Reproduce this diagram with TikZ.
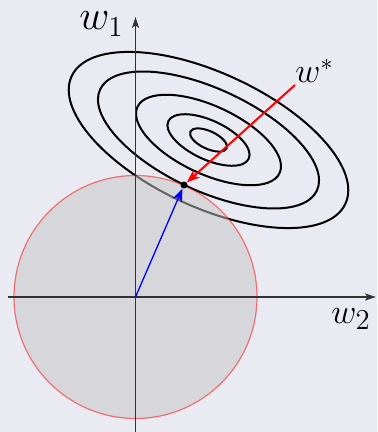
\documentclass[tikz,border=0pt]{standalone}
\usetikzlibrary{arrows.meta}
\definecolor{bgc}{HTML}{EAEAF2}
\definecolor{axc}{HTML}{333333}
\begin{document}
\begin{tikzpicture}[x=0.5pt,y=-0.5pt,
  contour/.style={black,line width=1pt},
  axisline/.style={axc,line width=0.85pt,-{Stealth[length=5.5pt,width=3.6pt,inset=1.3pt]}},
  vec/.style={-{Stealth[length=6.5pt,width=5pt,inset=1.8pt]}},
  lbl/.style={inner sep=0pt,anchor=base west}]
\fill[bgc] (0,0) rectangle (377,432);
\useasboundingbox (0,0) rectangle (377,432);
% contours
\coordinate (C) at (208.5,140);
\foreach \a/\b in {20/8.8, 44.4/19.5, 78.4/34, 119.6/51, 151/67}{
  \draw[contour, rotate around={-25:(C)}] (C) ellipse [x radius=\a, y radius=\b];
}
% constraint disc
\fill[gray!45!white, opacity=0.5] (135.5,297) circle [radius=121.5];
\draw[red, opacity=0.5, line width=0.6pt] (135.5,297) circle [radius=121.5];
% axes
\coordinate (O) at (135.5,297);
\coordinate (ybot) at (135.5,432);
\coordinate (ytop) at (135.5,17);
\coordinate (xl) at (8,297);
\coordinate (xr) at (376,297);
\draw[axisline] (ybot) -- (ytop);
\draw[axisline] (xl) -- (xr);
% optimum point and vectors
\node[circle, fill=black, inner sep=0pt, minimum size=3.5pt] (dot) at (184,185) {};
\coordinate (ws) at (295,85);
\draw[red, line width=1pt, vec] (ws) -- (dot);
\draw[blue, line width=0.65pt, vec] (O) -- (dot);
% labels
\node[lbl, font=\fontsize{21}{24}\selectfont] (lw1) at (79,30) {$w_1$};
\node[lbl, font=\fontsize{19}{22}\selectfont] (lw2) at (331,323) {$w_2$};
\node[lbl, font=\fontsize{18}{21}\selectfont] (lws) at (295,83) {$w^*$};
\end{tikzpicture}
\end{document}
